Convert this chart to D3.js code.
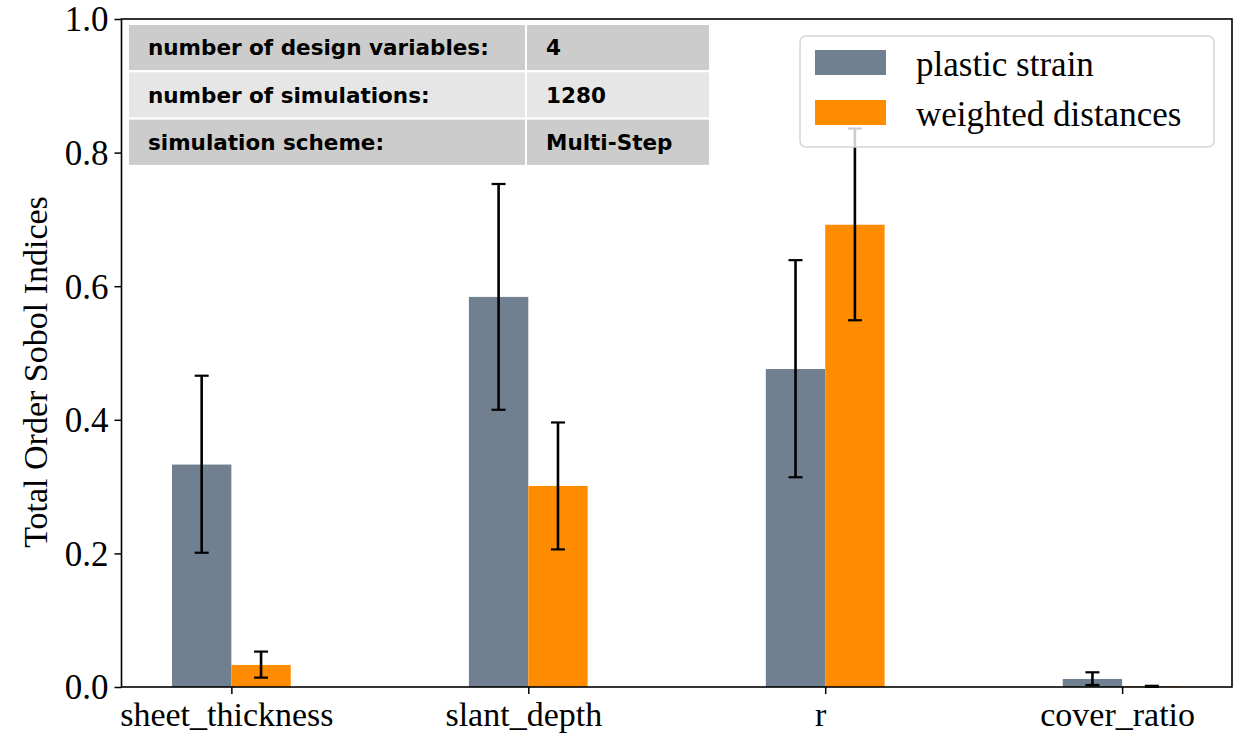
<!DOCTYPE html>
<html>
<head>
<meta charset="utf-8">
<script src="https://cdn.jsdelivr.net/npm/d3@7"></script>
<style>
  html, body { margin: 0; padding: 0; background: #fff; }
  svg { display: block; }
</style>
</head>
<body>
<svg id="chart" width="1238" height="735"></svg>
<script>
// Sobol index data per design variable
const categories = ["sheet_thickness", "slant_depth", "r", "cover_ratio"];
const seriesNames = ["plastic strain", "weighted distances"];
const plasticStrain = [0.333, 0.584, 0.476, 0.012];
const plasticLow = [0.201, 0.415, 0.314, 0.003];
const plasticHigh = [0.466, 0.753, 0.639, 0.022];
const weightedDist = [0.033, 0.301, 0.692, 0.001];
const weightedLow = [0.014, 0.206, 0.549, 0.0002];
const weightedHigh = [0.053, 0.396, 0.836, 0.0018];
const yTicks = [0, 0.2, 0.4, 0.6, 0.8, 1.0];
const tableRows = [
  ["number of design variables:", "4"],
  ["number of simulations:", "1280"],
  ["simulation scheme:", "Multi-Step"]
];

const colors = ["#708090", "#ff8c00"];
const serif = "'Liberation Serif', 'Times New Roman', serif";
const sans = "'DejaVu Sans', sans-serif";

const svg = d3.select("#chart");
const plotL = 121.5, plotR = 1232, plotT = 19, plotB = 687;
const barW = 0.2;

const x = d3.scaleLinear().domain([-0.37, 3.37]).range([plotL, plotR]);
const y = d3.scaleLinear().domain([0, 1]).range([plotB, plotT]);

const series = [
  { name: seriesNames[0], vals: plasticStrain, lo: plasticLow, hi: plasticHigh, off: -barW / 2, color: colors[0] },
  { name: seriesNames[1], vals: weightedDist, lo: weightedLow, hi: weightedHigh, off: barW / 2, color: colors[1] }
];

// bars
series.forEach(s => {
  svg.append("g").selectAll("rect").data(s.vals).join("rect")
    .attr("x", (d, i) => x(i + s.off - barW / 2))
    .attr("width", x(barW) - x(0))
    .attr("y", d => y(d))
    .attr("height", d => y(0) - y(d))
    .attr("fill", s.color);
});

// error bars
series.forEach(s => {
  const g = svg.append("g").attr("stroke", "#000").attr("stroke-width", 2.6);
  s.vals.forEach((d, i) => {
    const cx = x(i + s.off);
    g.append("line").attr("x1", cx).attr("x2", cx).attr("y1", y(s.lo[i])).attr("y2", y(s.hi[i]));
    [s.lo[i], s.hi[i]].forEach(v => {
      g.append("line").attr("x1", cx - 7).attr("x2", cx + 7).attr("y1", y(v)).attr("y2", y(v)).attr("stroke-width", 2.2);
    });
  });
});

// axes
const yAxis = d3.axisLeft(y).tickValues(yTicks).tickFormat(d3.format(".1f")).tickSize(7).tickPadding(6);
const xAxis = d3.axisBottom(x).tickValues(d3.range(categories.length)).tickFormat(i => categories[i]).tickSize(7).tickPadding(8);

const gy = svg.append("g").attr("transform", `translate(${plotL},0)`).call(yAxis);
const gx = svg.append("g").attr("transform", `translate(0,${plotB})`).call(xAxis);
[gx, gy].forEach(g => {
  g.select(".domain").remove();
  g.selectAll(".tick line").attr("stroke", "#000").attr("stroke-width", 1.5);
  g.selectAll(".tick text").attr("fill", "#000").attr("font-family", serif).attr("font-size", 34);
});
gy.selectAll(".tick text").attr("dy", "0.34em").attr("font-size", 35);
gx.selectAll(".tick text").attr("dy", "0.7em").attr("dx", -5);

// frame
svg.append("rect").attr("x", plotL).attr("y", plotT).attr("width", plotR - plotL).attr("height", plotB - plotT)
  .attr("fill", "none").attr("stroke", "#000").attr("stroke-width", 1.6);

// y label
svg.append("text")
  .attr("transform", `translate(47,${(plotT + plotB) / 2 + 19}) rotate(-90)`)
  .attr("text-anchor", "middle")
  .attr("font-family", serif).attr("font-size", 34).attr("fill", "#000")
  .text("Total Order Sobol Indices");

// info table
const tblX = 128, tblY = 24, rowH = 47.3, colW = [398, 184];
const rowFill = ["#cccccc", "#e6e6e6", "#cccccc"];
const tbl = svg.append("g");
tableRows.forEach((row, r) => {
  let cx = tblX;
  row.forEach((cell, c) => {
    tbl.append("rect").attr("x", cx).attr("y", tblY + r * rowH).attr("width", colW[c]).attr("height", rowH)
      .attr("fill", rowFill[r]).attr("stroke", "#fff").attr("stroke-width", 2);
    tbl.append("text").attr("x", cx + 20).attr("y", tblY + r * rowH + rowH / 2)
      .attr("dy", "0.36em").attr("font-family", sans).attr("font-weight", "bold")
      .attr("font-size", 21.5).attr("fill", "#000").text(cell);
    cx += colW[c];
  });
});

// legend
const lg = svg.append("g");
lg.append("rect").attr("x", 800).attr("y", 36).attr("width", 414).attr("height", 111).attr("rx", 6)
  .attr("fill", "#fff").attr("fill-opacity", 0.8).attr("stroke", "#d6d6d6").attr("stroke-width", 1.5);
series.forEach((s, i) => {
  const cy = 62.5 + i * 50;
  lg.append("rect").attr("x", 815).attr("y", cy - 12.5).attr("width", 71).attr("height", 25).attr("fill", s.color);
  lg.append("text").attr("x", 916).attr("y", cy).attr("dy", "0.38em")
    .attr("font-family", serif).attr("font-size", 35).attr("fill", "#000").text(s.name);
});
</script>
</body>
</html>
